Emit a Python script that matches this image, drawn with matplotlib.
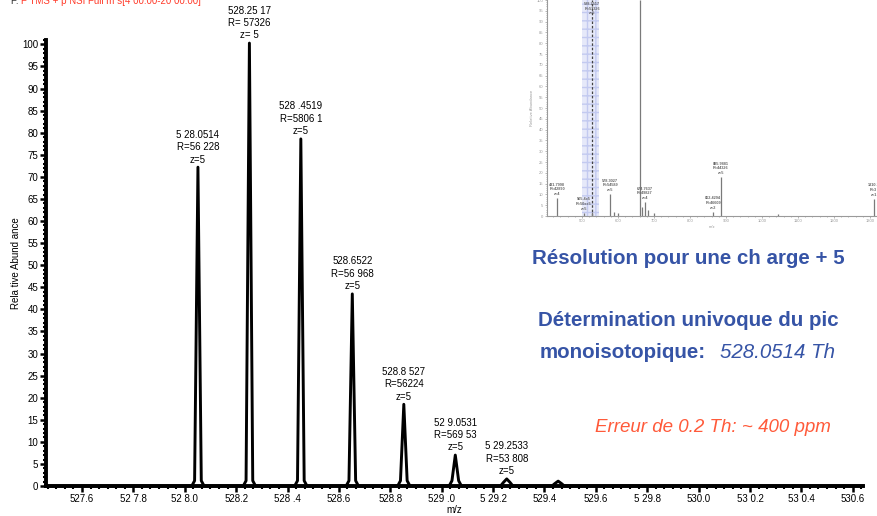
import matplotlib
matplotlib.use('Agg')
import matplotlib.pyplot as plt
from matplotlib.ticker import MultipleLocator, FixedLocator

plt.rcParams['font.family'] = ['Liberation Sans', 'DejaVu Sans']

# ---------------- data ----------------
peak_mz = [528.0514, 528.2517, 528.4519, 528.6522, 528.8527, 529.0531, 529.2533, 529.4535]
peak_int = [72.2, 100.3, 78.6, 43.5, 18.5, 7.0, 1.6, 1.1]
peak_labels = ["5 28.0514\nR=56 228\nz=5",
               "528.25 17\nR= 57326\nz= 5",
               "528 .4519\nR=5806 1\nz=5",
               "528.6522\nR=56 968\nz=5",
               "528.8 527\nR=56224\nz=5",
               "52 9.0531\nR=569 53\nz=5",
               "5 29.2533\nR=53 808\nz=5",
               ""]
x_ticks = [527.6, 527.8, 528.0, 528.2, 528.4, 528.6, 528.8, 529.0,
           529.2, 529.4, 529.6, 529.8, 530.0, 530.2, 530.4, 530.6]
x_tick_labels = ["527.6", "52 7.8", "52 8.0", "528.2", "528 .4", "528.6", "528.8", "529 .0",
                 "5 29.2", "529.4", "529.6", "5 29.8", "530.0", "53 0.2", "53 0.4", "530.6"]
y_ticks = [0, 5, 10, 15, 20, 25, 30, 35, 40, 45, 50, 55, 60, 65, 70, 75, 80, 85, 90, 95, 100]

# inset (full-scan spectrum thumbnail)
ins_mz = [431.8, 505.0, 528.2, 578.3, 590.0, 600.0, 661.0, 666.0, 674.8, 684.0, 700.0, 864.4, 885.9, 1044.0, 1310.0]
ins_int = [8.3, 1.5, 2.0, 10.2, 2.0, 1.5, 100.0, 4.0, 6.5, 3.0, 1.5, 2.0, 18.0, 1.0, 8.0]
ins_lab_mz = [431.8, 505.0, 528.2, 578.3, 674.8, 864.4, 885.9, 1310.0]
ins_lab_int = [8.3, 1.5, 92.0, 10.2, 6.5, 2.0, 18.0, 8.0]
ins_lab_txt = ["431.7998\nR=42890\nz=4", "505.4x5\nR=50xx5\nz=5", "528.2517\nR=57326\nz=5",
               "578.3027\nR=54589\nz=5", "674.7637\nR=49827\nz=4", "862.4294\nR=46609\nz=2",
               "885.9881\nR=44326\nz=5", "1310.2\nR=3\nz=1"]
ins_x_ticks = [500, 600, 700, 800, 900, 1000, 1100, 1200, 1300]
ins_y_ticks = [0, 5, 10, 15, 20, 25, 30, 35, 40, 45, 50, 55, 60, 65, 70, 75, 80, 85, 90, 95, 100]

W, H = 878, 516
fig = plt.figure(figsize=(W / 100, H / 100), dpi=100)

def fx(px):
    return px / W

def fy(py):
    return 1 - py / H

# ---------------- main axes ----------------
ax = fig.add_axes([fx(46), fy(486), fx(863) - fx(46), fy(40) - fy(486)])
ax.patch.set_alpha(0)
xmin, xmax = 527.46, 530.64
ax.set_xlim(xmin, xmax)
ax.set_ylim(0, 101)

# build profile line
xs, ys = [xmin], [0]
for c, h in zip(peak_mz, peak_int):
    foot = min(1.2, 0.5 * h)
    xs += [c - 0.024, c - 0.013, c, c + 0.013, c + 0.024]
    ys += [0, foot, h, foot, 0]
xs.append(xmax)
ys.append(0)
ax.plot(xs, ys, color='black', lw=2.1, solid_joinstyle='round', clip_on=False)

for c, h, lab in zip(peak_mz, peak_int, peak_labels):
    if lab:
        ax.text(c, h + 0.6, lab, ha='center', va='bottom', fontsize=7, linespacing=1.3)

for s in ['top', 'right']:
    ax.spines[s].set_visible(False)
for s in ['left', 'bottom']:
    ax.spines[s].set_linewidth(2.8)

ax.xaxis.set_major_locator(FixedLocator(x_ticks))
ax.set_xticklabels(x_tick_labels)
ax.xaxis.set_minor_locator(MultipleLocator(0.2 / 6))
ax.yaxis.set_major_locator(FixedLocator(y_ticks))
ax.set_yticklabels([str(v) for v in y_ticks])
ax.yaxis.set_minor_locator(MultipleLocator(1))
ax.tick_params(which='major', direction='out', length=4, width=1.8, labelsize=7, pad=1.5)
ax.tick_params(which='minor', direction='out', length=2.5, width=1.5)
ax.set_xlabel('m/z', fontsize=7, labelpad=1)
ax.set_ylabel('Rela tive Abund ance', fontsize=7, labelpad=1)

# ---------------- inset ----------------
ia = fig.add_axes([fx(547), fy(216), fx(W) - fx(547), fy(0) - fy(216)])
ia.set_xlim(403, 1322)
ia.set_ylim(0, 100)
ia.axvspan(500, 547, facecolor='#e6e9f9', edgecolor='#c3caf0', hatch='++', lw=0)
ia.axvline(528.2, color='#444444', lw=0.9, ls=(0, (2, 1.5)))
ia.vlines(ins_mz, 0, ins_int, color='#7a7a7a', lw=0.9)
for m, h, t in zip(ins_lab_mz, ins_lab_int, ins_lab_txt):
    ia.text(m, h + 1, t, ha='center', va='bottom', fontsize=2.8, color='#666666',
            fontweight='bold', linespacing=1.2)
for s in ['top', 'right']:
    ia.spines[s].set_visible(False)
for s in ['left', 'bottom']:
    ia.spines[s].set_color('#9a9a9a')
    ia.spines[s].set_linewidth(0.8)
ia.xaxis.set_major_locator(FixedLocator(ins_x_ticks))
ia.xaxis.set_minor_locator(MultipleLocator(20))
ia.yaxis.set_major_locator(FixedLocator(ins_y_ticks))
ia.yaxis.set_minor_locator(MultipleLocator(1))
ia.tick_params(which='both', colors='#9a9a9a', labelsize=3, length=1.5, width=0.5, pad=1)
ia.tick_params(which='minor', length=0.8)
ia.set_xlabel('m/z', fontsize=3, color='#9a9a9a', labelpad=1)
ia.set_ylabel('Relative Abundance', fontsize=3, color='#9a9a9a', labelpad=2)
ia.patch.set_alpha(0)

# ---------------- annotations ----------------
blue = '#3654a6'
bsize = 14.8
fig.text(fx(688), fy(259), 'Résolution pour une ch arge + 5', color=blue, fontsize=bsize,
         fontweight='bold', ha='center', va='center')
fig.text(fx(688), fy(320), 'Détermination univoque du pic', color=blue, fontsize=bsize,
         fontweight='bold', ha='center', va='center')
fig.text(fx(540), fy(352), 'monoisotopique:', color=blue, fontsize=bsize,
         fontweight='bold', ha='left', va='center')
fig.text(fx(720), fy(352), '528.0514 Th', color=blue, fontsize=bsize,
         fontstyle='italic', ha='left', va='center')
fig.text(fx(713), fy(428), 'Erreur de 0.2 Th: ~ 400 ppm', color='#ff5a3a', fontsize=13.5,
         fontstyle='italic', ha='center', va='center')

fig.text(fx(10), fy(1), 'F:', color='#333333', fontsize=7, ha='left', va='center')
fig.text(fx(21), fy(1), 'F TMS + p NSI Full m s[4 00.00-20 00.00]', color='#ff3b2a',
         fontsize=7, ha='left', va='center')

fig.savefig('out.png', dpi=100)
